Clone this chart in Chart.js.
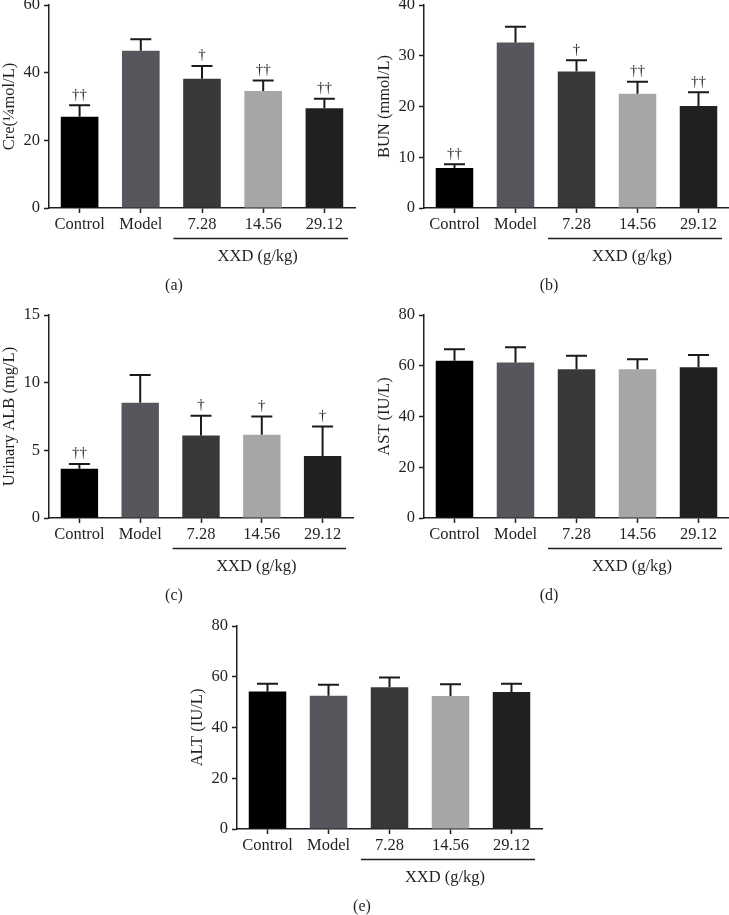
<!DOCTYPE html>
<html>
<head>
<meta charset="utf-8">
<script src="https://cdn.jsdelivr.net/npm/chart.js@4.4.1/dist/chart.umd.min.js"></script>
<style>
  html, body { margin: 0; padding: 0; background: #fff; }
  body { width: 729px; height: 915px; position: relative; overflow: hidden; }
  canvas { position: absolute; }
</style>
</head>
<body>
<canvas id="cre" width="365" height="318" style="left:0px;top:-10px"></canvas>
<canvas id="bun" width="354" height="318" style="left:375px;top:-10px"></canvas>
<canvas id="alb" width="365" height="318" style="left:0px;top:300px"></canvas>
<canvas id="ast" width="354" height="318" style="left:375px;top:300px"></canvas>
<canvas id="alt" width="365" height="318" style="left:188px;top:611px"></canvas>
<script>
// groups
var groups = ['Control', 'Model', '7.28', '14.56', '29.12'];
var barColors = ['#000000', '#56575c', '#373838', '#a6a6a6', '#202020'];

// (a) Cre
var creMean = [27.0, 46.5, 38.2, 34.6, 29.5];
var creSD = [3.4, 3.4, 3.8, 3.1, 2.8];
var creMarks = ['††', '', '†', '††', '††'];
var creTicks = [0, 20, 40, 60];

// (b) BUN
var bunMean = [7.9, 32.6, 26.9, 22.5, 20.1];
var bunSD = [0.7, 3.1, 2.2, 2.4, 2.7];
var bunMarks = ['††', '', '†', '††', '††'];
var bunTicks = [0, 10, 20, 30, 40];

// (c) Urinary ALB
var albMean = [3.64, 8.51, 6.09, 6.16, 4.58];
var albSD = [0.35, 2.06, 1.46, 1.34, 2.18];
var albMarks = ['††', '', '†', '†', '†'];
var albTicks = [0, 5, 10, 15];

// (d) AST
var astMean = [62.0, 61.3, 58.6, 58.6, 59.4];
var astSD = [4.5, 6.0, 5.3, 4.0, 4.8];
var astTicks = [0, 20, 40, 60, 80];

// (e) ALT
var altMean = [54.2, 52.5, 55.9, 52.4, 54.0];
var altSD = [3.0, 4.3, 3.8, 4.6, 3.2];
var altTicks = [0, 20, 40, 60, 80];

var ink = '#231f20';
var serif = "'Liberation Serif', 'DejaVu Serif', serif";

// error bars, daggers, group line and panel letter
function makeExtras(sd, marks, letter) {
    return {
        id: 'extras',
        afterDatasetsDraw: function(chart) {
            var ctx = chart.ctx;
            var meta = chart.getDatasetMeta(0);
            var y = chart.scales.y;
            var vals = chart.data.datasets[0].data;
            ctx.save();
            ctx.strokeStyle = '#1a1a1a';
            ctx.lineWidth = 2;
            for (var i = 0; i < vals.length; i++) {
                var bar = meta.data[i];
                var yTop = y.getPixelForValue(vals[i] + sd[i]);
                ctx.beginPath();
                ctx.moveTo(bar.x, bar.y);
                ctx.lineTo(bar.x, yTop);
                ctx.moveTo(bar.x - 10.5, yTop);
                ctx.lineTo(bar.x + 10.5, yTop);
                ctx.stroke();
                if (marks && marks[i]) {
                    ctx.fillStyle = ink;
                    ctx.font = '15px ' + serif;
                    ctx.textAlign = 'center';
                    ctx.textBaseline = 'bottom';
                    ctx.fillText(marks[i], bar.x, yTop - 3);
                }
            }
            ctx.restore();
        },
        afterDraw: function(chart) {
            var ctx = chart.ctx;
            var area = chart.chartArea;
            var x = chart.scales.x;
            var x1 = x.getPixelForValue(1.5) + 2;
            var x2 = area.right - 7;
            var yl = area.bottom + 30.5;
            ctx.save();
            ctx.strokeStyle = ink;
            ctx.lineWidth = 1.5;
            ctx.beginPath();
            ctx.moveTo(x1, yl);
            ctx.lineTo(x2, yl);
            ctx.stroke();
            ctx.fillStyle = ink;
            ctx.font = '16.5px ' + serif;
            ctx.textAlign = 'center';
            ctx.textBaseline = 'middle';
            ctx.fillText('XXD (g/kg)', (x1 + x2) / 2 - 3, area.bottom + 49);
            ctx.font = '16px ' + serif;
            ctx.fillText(letter, area.left + 125, area.bottom + 78);
            ctx.restore();
        }
    };
}

function drawPanel(id, mean, sd, marks, ticks, title, letter, padRight) {
    var ctx = document.getElementById(id);
    return new Chart(ctx, {
        type: 'bar',
        data: {
            labels: groups,
            datasets: [{
                data: mean,
                backgroundColor: barColors,
                borderWidth: 0,
                categoryPercentage: 1,
                barPercentage: 0.615
            }]
        },
        options: {
            responsive: false,
            animation: false,
            layout: { padding: { top: 15, right: padRight, bottom: 70, left: 0 } },
            plugins: { legend: { display: false }, tooltip: { enabled: false } },
            scales: {
                x: {
                    grid: { display: true, offset: false, drawOnChartArea: false, drawTicks: true,
                            tickLength: 5, tickColor: ink, tickWidth: 1.5 },
                    border: { display: true, color: ink, width: 1.5 },
                    ticks: { color: ink, font: { family: serif, size: 16.5 }, padding: 2, maxRotation: 0 },
                    afterFit: function(s) { s.height = 30; }
                },
                y: {
                    min: ticks[0],
                    max: ticks[ticks.length - 1],
                    afterBuildTicks: function(s) { s.ticks = ticks.map(function(v) { return { value: v }; }); },
                    grid: { display: true, drawOnChartArea: false, drawTicks: true,
                            tickLength: 5, tickColor: ink, tickWidth: 1.5 },
                    border: { display: true, color: ink, width: 1.5 },
                    ticks: { color: ink, font: { family: serif, size: 16.5 }, padding: 4 },
                    title: { display: true, text: title, color: ink,
                             font: { family: serif, size: 16.5 }, padding: 0 },
                    afterFit: function(s) { s.width = 49; }
                }
            }
        },
        plugins: [makeExtras(sd, marks, letter)]
    });
}

drawPanel('cre', creMean, creSD, creMarks, creTicks, 'Cre(¼mol/L)', '(a)', 10);
drawPanel('bun', bunMean, bunSD, bunMarks, bunTicks, 'BUN (mmol/L)', '(b)', 0);
drawPanel('alb', albMean, albSD, albMarks, albTicks, 'Urinary ALB (mg/L)', '(c)', 12);
drawPanel('ast', astMean, astSD, null, astTicks, 'AST (IU/L)', '(d)', 0);
drawPanel('alt', altMean, altSD, null, altTicks, 'ALT (IU/L)', '(e)', 11);
</script>
</body>
</html>
